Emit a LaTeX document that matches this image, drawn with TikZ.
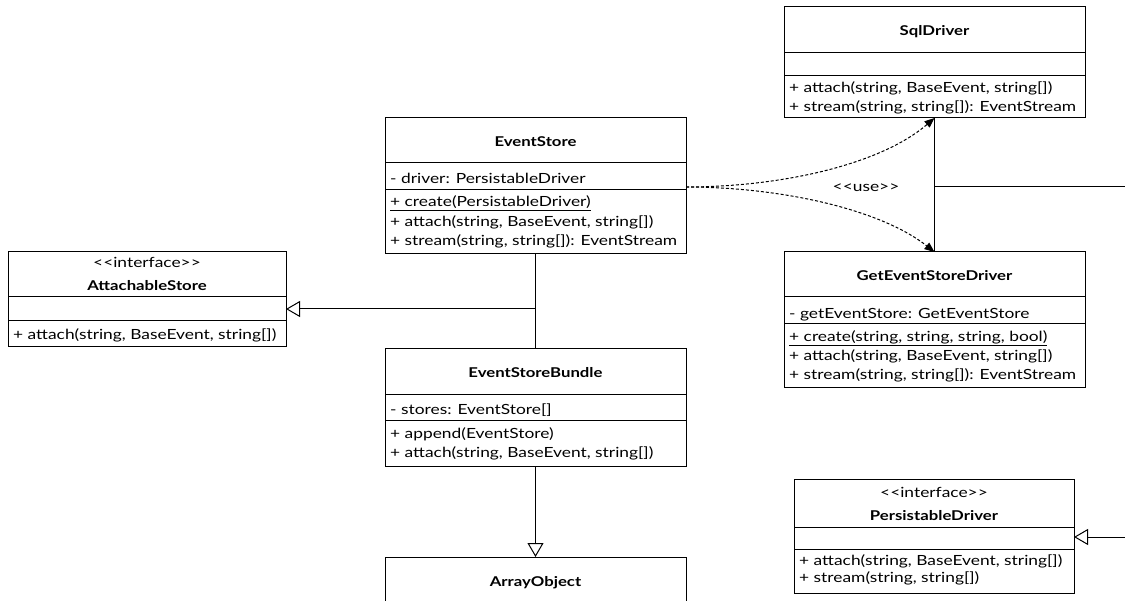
\documentclass[tikz,border=0pt]{standalone}
\usepackage{fontspec}
\setmainfont{Lato}[FakeStretch=1.24]
\usetikzlibrary{arrows.meta}

% one class box: name, left, top, width, title bottom, attribute bottom, bottom
\newcommand{\classbox}[7]{%
  \node[cls, minimum width={#4}, minimum height={#7-#3}] (#1) at (#2,#3) {};
  \draw[sepline] (#2,#5) -- ++(#4,0);
  \draw[sepline] (#2,#6) -- ++(#4,0);
}

\begin{document}
\begin{tikzpicture}[x=1pt,y=-1pt,
  cls/.style={draw, line width=1pt, fill=white, anchor=north west, inner sep=0pt, outer sep=0pt},
  sepline/.style={line width=1pt},
  ttl/.style={font=\bfseries\fontsize{13.5}{16}\selectfont, inner sep=0pt, anchor=base},
  stereo/.style={font=\fontsize{14}{16}\selectfont, inner sep=0pt, anchor=base},
  mem/.style={font=\fontsize{14}{16}\selectfont, anchor=base west, inner sep=0pt},
  inh/.style={line width=1pt, -{Triangle[open, width=16pt, length=14pt, line width=1pt]}},
  plain/.style={line width=1pt},
  usedep/.style={line width=1pt, dash pattern=on 3pt off 2pt, -{Triangle[width=8pt, length=10pt]}},
]
\clip (0,0) rectangle (1125,601);
\fill[white] (0,0) rectangle (1125,601);

% EventStore
\classbox{es}{385}{118}{301}{163}{190}{254}
\node[ttl] (esT) at (535.5,147) {EventStore};
\node[mem] (esA) at (390,184) {- driver: PersistableDriver};
\node[mem] (esM1) at (390,207) {\underline{+ create(PersistableDriver)}};
\node[mem] (esM2) at (390,226.5) {+ attach(string, BaseEvent, string[])};
\node[mem] (esM3) at (390,246) {+ stream(string, string[]): EventStream};

% SqlDriver
\classbox{sql}{784}{7}{301}{53}{76}{118}
\node[ttl] (sqlT) at (934.5,36) {SqlDriver};
\node[mem] (sqlM1) at (789,93) {+ attach(string, BaseEvent, string[])};
\node[mem] (sqlM2) at (789,112) {+ stream(string, string[]): EventStream};

% GetEventStoreDriver
\classbox{ged}{784}{252}{301}{297}{324}{388}
\node[ttl] (gedT) at (934.5,281) {GetEventStoreDriver};
\node[mem] (gedA) at (789,318.5) {- getEventStore: GetEventStore};
\node[mem] (gedM1) at (789,341.5) {\underline{+ create(string, string, string, bool)}};
\node[mem] (gedM2) at (789,361) {+ attach(string, BaseEvent, string[])};
\node[mem] (gedM3) at (789,380) {+ stream(string, string[]): EventStream};

% AttachableStore
\classbox{ast}{8}{252}{278}{297}{321}{347}
\node[stereo] (astS) at (147,268) {<{}<interface>{}>};
\node[ttl] (astT) at (147,291) {AttachableStore};
\node[mem] (astM) at (13,340) {+ attach(string, BaseEvent, string[])};

% EventStoreBundle
\classbox{esb}{385}{349}{301}{395}{421}{467}
\node[ttl] (esbT) at (535.5,378) {EventStoreBundle};
\node[mem] (esbA) at (390,414.5) {- stores: EventStore[]};
\node[mem] (esbM1) at (390,439) {+ append(EventStore)};
\node[mem] (esbM2) at (390,458) {+ attach(string, BaseEvent, string[])};

% ArrayObject (continues past the lower edge)
\classbox{ao}{385}{557}{301}{610}{620}{640}
\node[ttl] (aoT) at (535.5,586) {ArrayObject};

% PersistableDriver
\classbox{pd}{794}{480}{280}{527}{549}{593}
\node[stereo] (pdS) at (934,497) {<{}<interface>{}>};
\node[ttl] (pdT) at (934,520) {PersistableDriver};
\node[mem] (pdM1) at (799,565) {+ attach(string, BaseEvent, string[])};
\node[mem] (pdM2) at (799,582) {+ stream(string, string[])};

% connectors
\coordinate (j1) at (535.5,309);
\draw[plain] (es.south) -- (esb.north);
\draw[inh] (j1) -- (j1 -| ast.east);
\draw[inh] (esb.south) -- (ao.north);

\coordinate (usefrom) at (686,187);
\draw[usedep] (usefrom) .. controls (780,187) and (880,165) .. (sql.south);
\draw[usedep] (usefrom) .. controls (780,187) and (880,209) .. (ged.north);
\node[stereo] (uselbl) at (866,192) {<{}<use>{}>};

\coordinate (j2) at (934.5,187);
\coordinate (off1) at (1130,187);
\draw[plain] (sql.south) -- (ged.north);
\draw[plain] (j2) -- (off1);

\coordinate (off2) at (1130,537);
\draw[inh] (off2) -- (off2 -| pd.east);
\end{tikzpicture}
\end{document}
